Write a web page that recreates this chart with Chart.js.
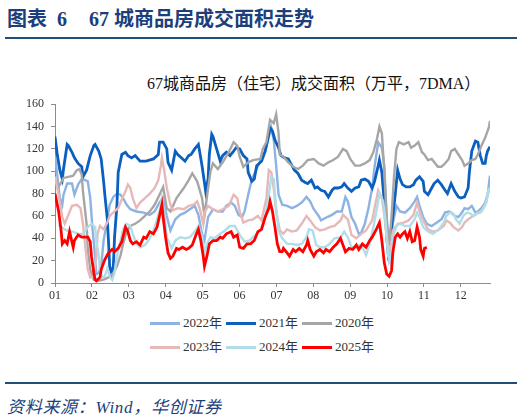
<!DOCTYPE html>
<html>
<head>
<meta charset="utf-8">
<script src="https://cdn.jsdelivr.net/npm/chart.js@4.4.1/dist/chart.umd.min.js"></script>
<style>
    body { margin: 0; width: 524px; height: 418px; background: #fff; position: relative; overflow: hidden;
           font-family: "Liberation Serif", "Noto Sans CJK SC", serif; }
    #fig { position: absolute; left: 7px; top: 3px; font-size: 20px; font-weight: bold; color: #1c3f7c; white-space: nowrap; }
    #fig .n1 { margin-left: 10px; }
    #fig .n2 { margin-left: 22px; }
    .rule { position: absolute; left: 5px; width: 512px; height: 2px; background: #1f4e79; }
    #sub { position: absolute; left: 147px; top: 70px; font-size: 16px; color: #111; white-space: nowrap; }
    #box { position: absolute; left: 0; top: 90px; width: 524px; height: 220px; }
    #legend { position: absolute; left: 150px; top: 314px; display: grid; grid-template-columns: repeat(3, 76px); row-gap: 6px; }
    #legend div { font-size: 13px; color: #333; white-space: nowrap; height: 18px; line-height: 18px; }
    #legend span.sw { display: inline-block; width: 30px; height: 3px; vertical-align: middle; margin-right: 3px; position: relative; top: -1px; }
    #src { position: absolute; left: 7px; top: 393px; font-size: 17px; font-style: italic; color: #1c3f7c; white-space: nowrap; letter-spacing: 0.7px; }
</style>
</head>
<body>
<div id="fig">图表<span class="n1">6</span><span class="n2">67 城商品房成交面积走势</span></div>
<div class="rule" style="top:37px"></div>
<div id="sub">67城商品房（住宅）成交面积（万平，7DMA）</div>
<div id="box"><canvas id="areaChart" width="524" height="220"></canvas></div>
<div id="legend"></div>
<div class="rule" style="top:382px"></div>
<div id="src">资料来源：Wind，华创证券</div>

<script>
// x positions are day-of-axis (0 = 01 tick, 334 = 12 tick), values in 万平 (7DMA)
const monthLabels = ['01', '02', '03', '04', '05', '06', '07', '08', '09', '10', '11', '12'];
const monthTicks = [0, 30.4, 60.7, 91.1, 121.5, 151.8, 182.2, 212.5, 242.9, 273.3, 303.6, 334];

const days2022 = [0,2,4,6,7,10,14,16,19,22,25,27,29,31,33,34,36,38,40,43,45,48,51,54,56,59,62,67,73,78,82,86,89,92,95,99,103,107,111,115,118,121,123,126,130,134,138,141,145,148,151,154,156,159,162,166,170,173,176,178,180,182,184,187,191,195,199,203,207,210,213,217,219,224,228,232,236,239,241,244,247,250,252,255,258,261,263,266,269,271,273,275,277,278,281,284,288,292,296,298,300,303,306,310,314,318,321,324,326,329,332,335,337,340,343,346,348,351,354,356,358];
const vals2022 = [114,95,76,70,79,89,89,79,88,93,92,91,76,47,24,8,9,15,38,56,70,77,80,79,76,70,66,64,63,61,64,72,76,60,47,57,61,63,66,69,61,44,38,59,66,64,64,69,72,69,61,59,64,79,93,102,112,118,131,139,128,105,79,70,69,67,69,72,77,73,66,60,56,59,61,64,64,77,73,59,53,44,45,53,67,85,104,126,121,105,60,25,40,53,69,64,63,67,73,77,69,59,53,51,54,57,63,64,63,60,59,63,67,66,69,63,64,67,72,79,96];

const days2021 = [0,2,4,6,7,10,11,14,16,19,22,23,26,29,32,33,36,38,40,41,43,44,45,47,48,49,51,52,55,58,60,63,66,70,75,81,85,86,89,92,93,96,99,101,104,107,110,112,115,118,119,121,123,124,126,127,129,130,133,136,138,141,144,147,149,152,155,158,159,162,164,166,170,173,175,177,179,181,184,186,189,192,195,197,200,203,206,208,211,214,216,219,222,225,228,230,233,236,238,241,244,247,250,252,255,258,261,263,266,267,269,270,272,273,274,277,280,282,284,286,289,292,295,297,300,303,304,307,310,312,315,318,321,323,326,329,332,334,337,340,341,343,346,348,350,352,354,355,356,358];
const vals2021 = [131,114,101,93,102,124,123,117,112,107,104,95,101,114,123,124,118,111,91,79,58,38,15,7,15,41,70,99,115,117,114,112,114,109,109,111,115,126,126,120,108,101,118,115,112,109,114,115,120,124,118,105,90,82,93,115,133,131,120,109,114,117,114,118,121,120,114,111,99,91,93,105,109,118,128,139,136,128,121,114,112,111,105,101,98,92,90,89,92,85,86,83,82,77,83,85,85,86,89,85,82,85,86,92,93,91,85,91,105,110,99,85,61,41,29,50,79,101,93,88,86,86,88,92,95,91,82,79,85,89,92,88,83,80,89,82,77,76,77,85,99,118,127,126,114,107,107,114,118,122];

const days2020 = [0,3,7,11,15,18,20,22,23,26,27,29,32,36,40,44,48,51,54,56,59,62,66,70,74,78,82,86,89,92,95,100,106,110,113,117,121,123,126,128,130,134,138,143,147,150,152,155,159,163,169,171,174,177,180,182,184,185,188,192,196,200,204,208,213,217,221,225,229,233,237,240,243,247,251,255,259,262,265,267,269,271,273,275,277,279,281,283,287,291,293,296,299,302,304,307,310,313,315,318,321,324,326,329,332,335,337,340,343,346,348,351,354,357,358];
const vals2020 = [90,86,94,95,96,101,102,97,82,53,30,12,3,2,3,5,9,15,25,35,46,51,53,56,60,64,70,79,86,67,64,76,85,92,98,91,76,60,85,100,107,102,108,117,126,123,113,104,108,110,111,120,126,146,143,151,134,115,113,108,104,102,105,110,111,107,105,108,110,113,120,118,111,105,105,107,110,117,129,140,134,100,55,35,60,95,120,126,124,126,121,123,126,117,115,110,111,107,104,104,107,111,118,120,115,110,105,107,110,111,115,123,130,139,145];

const days2023 = [0,3,6,8,11,14,18,21,23,25,27,29,32,34,35,37,40,43,45,49,52,55,58,60,62,64,67,70,74,78,82,85,87,88,90,92,95,97,101,106,110,114,117,119,122,123,126,130,134,138,143,147,150,152,155,159,163,167,170,174,176,178,180,182,185,188,191,195,199,203,207,210,214,218,222,226,230,235,237,241,244,248,252,256,261,263,266,269,271,273,275,277,278,282,287,291,295,298,300,303,307,311,315,320,322,325,328,332,335,337,340,343,346,348,351,354,357,358];
const vals2023 = [95,79,59,53,61,69,70,67,53,32,12,5,6,24,44,51,48,54,60,64,67,75,82,88,85,76,67,72,76,80,85,92,104,112,100,85,70,65,67,66,69,70,73,67,53,63,69,66,64,66,69,79,76,64,54,56,57,60,56,76,101,99,85,64,47,44,48,46,47,53,60,56,50,47,48,50,51,56,61,57,43,40,44,47,56,67,83,76,61,40,28,38,47,53,54,56,61,72,64,56,48,46,47,51,56,54,50,47,50,54,57,59,61,63,64,70,82,85];

const days2024 = [3,8,12,15,19,23,27,30,33,34,36,37,39,41,43,45,47,49,51,54,56,59,62,64,67,70,74,78,82,86,88,90,92,96,99,103,107,111,115,118,121,123,125,128,131,136,140,144,148,152,156,160,165,169,173,176,178,180,182,184,187,191,195,199,203,207,209,212,215,218,222,226,230,235,238,241,244,247,251,254,256,259,262,265,267,270,272,274,276,278,281,284,288,292,296,298,300,303,307,311,315,320,322,325,328,330,333,336,339,342,344,347,350,352,355,357];
const vals2024 = [52,48,46,46,44,44,50,53,50,38,24,11,5,6,13,6,3,9,24,38,48,53,51,44,35,32,34,40,50,64,76,62,41,31,38,41,40,41,46,51,41,27,35,41,40,44,47,51,51,43,37,38,43,47,59,79,95,93,67,47,40,35,35,34,35,41,48,47,34,32,32,35,40,41,46,41,32,32,34,30,25,35,50,67,80,73,56,25,18,41,51,53,51,51,57,63,59,50,46,44,47,54,60,63,62,57,53,60,63,62,60,62,63,66,72,85];

const days2025 = [0,3,5,6,8,10,12,15,16,19,22,25,27,29,30,32,33,34,37,38,41,44,47,49,52,55,58,60,62,64,67,70,73,75,78,81,84,86,88,89,91,93,95,97,100,102,105,108,110,113,116,118,120,122,123,125,127,130,133,136,138,141,145,147,150,152,155,158,161,164,167,170,173,176,177,179,181,183,185,187,188,191,193,196,198,201,204,207,208,210,213,215,218,221,223,226,229,232,235,237,239,242,245,248,250,253,256,259,261,264,267,269,271,273,275,277,278,280,282,284,286,288,290,292,294,296,298,300,301,303,304,306];
const vals2025 = [80,64,47,35,38,35,46,32,38,43,41,41,41,37,24,9,3,2,5,12,21,27,30,28,31,37,50,46,38,35,37,34,41,40,46,44,50,60,70,59,41,27,22,24,31,30,32,30,31,34,43,48,38,24,15,24,35,38,38,41,40,44,46,41,43,32,31,35,35,38,46,48,59,67,73,64,50,35,28,28,31,27,24,30,28,31,28,34,38,30,24,28,30,27,30,28,32,35,40,34,28,31,30,34,30,35,32,38,41,47,54,38,18,8,6,11,27,41,44,41,44,46,40,46,37,38,50,41,30,24,31,32];

const seriesNames = ['2022年', '2021年', '2020年', '2023年', '2024年', '2025年'];
const seriesDays = [days2022, days2021, days2020, days2023, days2024, days2025];
const seriesVals = [vals2022, vals2021, vals2020, vals2023, vals2024, vals2025];
const seriesColors = ['#8db3e2', '#0a5fbf', '#a6a6a6', '#e6b9b8', '#b1dde8', '#ff0000'];
const seriesWidths = [2.4, 2.8, 2.4, 2.4, 2.4, 2.8];

const datasets = seriesNames.map((name, i) => ({
    label: name,
    data: seriesDays[i].map((d, j) => ({ x: d, y: seriesVals[i][j] })),
    borderColor: seriesColors[i],
    borderWidth: seriesWidths[i],
    pointRadius: 0,
    tension: 0,
    fill: false,
    order: seriesNames.length - i   // later series drawn on top, red last
}));

const axisColor = '#8c8c8c';
const tickFont = { family: '"Liberation Serif", serif', size: 12 };

new Chart(document.getElementById('areaChart'), {
    type: 'line',
    data: { datasets: datasets },
    options: {
        responsive: false,
        animation: false,
        layout: { padding: { left: 0, right: 34, top: 9, bottom: 0 } },
        plugins: { legend: { display: false }, tooltip: { enabled: false }, title: { display: false } },
        scales: {
            x: {
                type: 'linear',
                min: 0,
                max: 358,
                afterBuildTicks: (axis) => { axis.ticks = monthTicks.map(v => ({ value: v })); },
                afterFit: (axis) => { axis.height = 27; },
                ticks: {
                    autoSkip: false,
                    maxRotation: 0,
                    padding: 2,
                    color: '#333',
                    font: tickFont,
                    callback: (v, i) => monthLabels[i]
                },
                grid: { drawOnChartArea: false, drawTicks: true, tickLength: 4, color: axisColor },
                border: { color: axisColor, width: 1 }
            },
            y: {
                min: 0,
                max: 160,
                afterFit: (axis) => { axis.width = 55; },
                ticks: { stepSize: 20, padding: 7, color: '#333', font: tickFont },
                grid: { drawOnChartArea: false, drawTicks: true, tickLength: 4, color: axisColor },
                border: { color: axisColor, width: 1 }
            }
        }
    }
});

// legend, two rows of three, same order as the original
const legendDiv = document.getElementById('legend');
seriesNames.forEach((name, i) => {
    const item = document.createElement('div');
    item.innerHTML = `<span class="sw" style="background:${seriesColors[i]}"></span>${name}`;
    legendDiv.appendChild(item);
});
</script>
</body>
</html>
